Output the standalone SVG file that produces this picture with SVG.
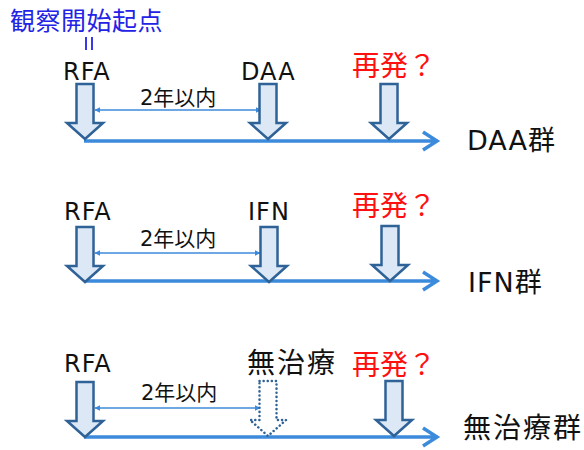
<svg xmlns="http://www.w3.org/2000/svg" width="584" height="450" viewBox="0 0 584 450">
<style>
text{font-family:"DejaVu Sans","Noto Sans CJK JP",sans-serif;fill:#111}
.lbl{font-size:24px;letter-spacing:1px}
.jp{font-family:"Noto Sans CJK JP",sans-serif;font-size:28px;letter-spacing:2px}
.red{font-family:"Noto Sans CJK JP",sans-serif;font-size:28px;fill:#FF1010}
.grp{font-size:27px;letter-spacing:1px}
.grpjp{font-family:"Noto Sans CJK JP",sans-serif;font-size:28px;letter-spacing:2px}
.dur{font-size:21px}
.title{font-family:"Noto Sans CJK JP",sans-serif;font-size:25px;letter-spacing:0.5px;fill:#2323E6}
.blk{fill:#DCE8F6;stroke:#2F6297;stroke-width:2.5;stroke-linejoin:miter}
.dot{fill:#fff;stroke:#2F6297;stroke-width:2.5;stroke-dasharray:0.1 4;stroke-linecap:round}
.tl{stroke:#3C8ADB;stroke-width:3.5;fill:none}
.dbl{stroke:#3C8ADB;stroke-width:1.5;fill:none}
</style>
<defs>
<marker id="tri" viewBox="0 0 10 10" refX="9" refY="5" markerWidth="6" markerHeight="6" markerUnits="userSpaceOnUse" orient="auto-start-reverse">
<path d="M0,0 L10,5 L0,10 z" fill="#3C8ADB"/>
</marker>
<path id="blockArrow" d="M-8.5,0 H8.5 V39 H18 L0,55 L-18,39 H-8.5 Z"/>
</defs>
<g id="title">
<text class="title" x="10" y="30">観察開始起点</text>
<line x1="86" y1="37" x2="86" y2="50" stroke="#2323E6" stroke-width="1.8"/>
<line x1="92" y1="37" x2="92" y2="50" stroke="#2323E6" stroke-width="1.8"/>
</g>
<g id="connectors">
<path class="tl" d="M84,141 H437 M423,132 L437,141 L423,150"/>
<path class="tl" d="M84,281 H437 M423,272 L437,281 L423,290"/>
<path class="tl" d="M84,437 H437 M423,428 L437,437 L423,446"/>
<line class="dbl" x1="95" y1="110" x2="261" y2="110" marker-start="url(#tri)" marker-end="url(#tri)"/>
<line class="dbl" x1="95" y1="253" x2="260" y2="253" marker-start="url(#tri)" marker-end="url(#tri)"/>
<line class="dbl" x1="95" y1="408" x2="260" y2="408" marker-start="url(#tri)" marker-end="url(#tri)"/>
</g>
<g id="daa-group">
<text class="lbl" x="63" y="80">RFA</text>
<use href="#blockArrow" class="blk" transform="translate(85,84)"/>
<text class="dur" x="140" y="105">2年以内</text>
<text class="lbl" x="241" y="80">DAA</text>
<use href="#blockArrow" class="blk" transform="translate(268,84)"/>
<text class="red" x="352" y="76">再発？</text>
<use href="#blockArrow" class="blk" transform="translate(389,84)"/>
<text class="grp" x="467" y="150">DAA群</text>
</g>
<g id="ifn-group">
<text class="lbl" x="64" y="220">RFA</text>
<use href="#blockArrow" class="blk" transform="translate(85,227)"/>
<text class="dur" x="140" y="246">2年以内</text>
<text class="lbl" x="248" y="220">IFN</text>
<use href="#blockArrow" class="blk" transform="translate(269,227)"/>
<text class="red" x="352" y="216">再発？</text>
<use href="#blockArrow" class="blk" transform="translate(390,226)"/>
<text class="grp" x="468" y="292">IFN群</text>
</g>
<g id="notreat-group">
<text class="lbl" x="64" y="372">RFA</text>
<use href="#blockArrow" class="blk" transform="translate(85,382)"/>
<text class="dur" x="141" y="400">2年以内</text>
<text class="jp" x="247" y="373">無治療</text>
<use href="#blockArrow" class="dot" transform="translate(268,381)"/>
<text class="red" x="352" y="375">再発？</text>
<use href="#blockArrow" class="blk" transform="translate(394,381)"/>
<text class="grpjp" x="463" y="438">無治療群</text>
</g>
</svg>
